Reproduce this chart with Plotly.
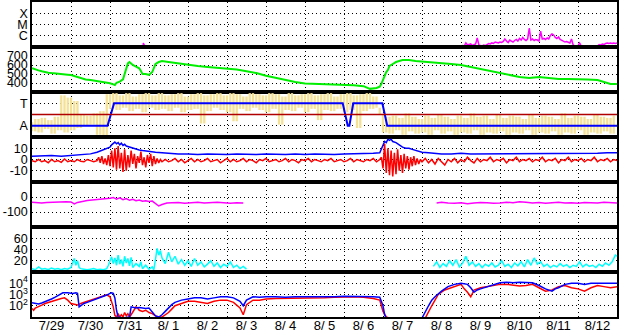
import plotly.graph_objects as go
from plotly.subplots import make_subplots

# ---------------- axis labels ----------------
DAY_LABELS = ["7/29", "7/30", "7/31", "8/ 1", "8/ 2", "8/ 3", "8/ 4", "8/ 5",
              "8/ 6", "8/ 7", "8/ 8", "8/ 9", "8/10", "8/11", "8/12"]
LABEL_HOURS = [12 + 24 * i for i in range(len(DAY_LABELS))]  # hours since 7/29 00:00

# ---------------- data (hours since 7/29 00:00, value) ----------------
# Panel 1: X-ray flux, log10 (W/m^2); values below -7 are off scale
XRAY = [(0, -8), (22.5, -8), (23, -6.9), (23.5, -8), (53.5, -8), (54, -6.9), (54.5, -8),
        (68, -8), (68.5, -6.64), (69, -6.8), (69.5, -8), (146, -8), (146.5, -6.82), (147, -8),
        (258, -8), (259, -6.91), (260, -8), (261, -8), (262, -6.95), (263, -6.91), (264, -6.91),
        (265, -6.87), (266, -6.91), (267, -6.64), (268, -6.82), (269, -6.78), (270, -6.73),
        (271, -6.87), (272, -6.78), (273, -6.73), (274, -6.2), (275, -6.82), (276, -6.87),
        (277, -6.91), (278, -6.82), (279, -6.87), (280, -6.78), (281, -6.69), (282, -6.73),
        (283, -6.64), (284, -6.69), (285, -6.56), (286, -6.6), (287, -6.64), (288, -6.56),
        (289, -6.6), (290, -6.51), (291, -6.29), (292, -6.47), (293, -6.6), (294, -6.38),
        (295, -6.51), (296, -6.56), (297, -6.42), (298, -6.33), (299, -6.47), (300, -6.24),
        (301, -6.38), (302, -6.15), (303, -6.33), (304, -6.42), (305, -6.29), (306, -5.31),
        (307, -6.38), (308, -6.29), (309, -6.42), (310, -6.33), (311, -6.38), (312, -6.47),
        (313, -5.58), (314, -6.29), (315, -6.24), (316, -6.33), (317, -6.2), (318, -6.29),
        (319, -5.98), (320, -5.84), (321, -5.93), (322, -6.15), (323, -6.24), (324, -6.11),
        (325, -6.33), (326, -6.42), (327, -6.47), (328, -6.56), (329, -6.51), (330, -6.6),
        (331, -6.64), (332, -6.29), (333, -6.82), (334, -6.91), (335, -6.91), (336, -6.87),
        (337, -6.64), (338, -6.91), (339, -6.95), (340, -7.1), (341, -6.95), (342, -7.2),
        (343, -6.95), (344, -7.1), (345, -6.91), (346, -6.91), (347, -6.87), (348, -6.91),
        (349, -6.78), (350, -6.82), (351, -6.73), (352, -6.78), (353, -6.69), (354, -6.64),
        (355, -6.69), (356, -6.64), (357, -6.69), (358, -6.64), (359, -6.69), (360, -6.64)]

# Panel 2: solar wind speed (km/s)
WIND = [(0, 565), (2, 550), (4, 540), (6, 530), (8, 520), (10, 515), (12, 510), (14, 505),
        (16, 508), (18, 500), (20, 495), (22, 492), (24, 489), (27, 470), (30, 452), (33, 440),
        (36, 433), (39, 425), (42, 415), (45, 405), (48, 397), (50, 385), (51, 378), (52, 403),
        (54, 415), (56, 441), (57, 507), (58, 563), (59, 618), (60, 633), (62, 600), (64, 581),
        (66, 563), (67, 533), (68, 500), (70, 500), (72, 489), (74, 522), (76, 611), (78, 633),
        (80, 644), (84, 633), (88, 622), (92, 611), (96, 600), (102, 589), (108, 578),
        (114, 567), (120, 561), (126, 550), (132, 530), (138, 510), (144, 480), (150, 455),
        (156, 430), (162, 410), (168, 395), (174, 392), (180, 390), (186, 385), (192, 380),
        (198, 375), (204, 365), (208, 335), (212, 345), (214, 360), (215, 390), (216, 433),
        (217, 489), (218, 522), (219, 544), (220, 589), (222, 611), (224, 633), (228, 655),
        (232, 655), (236, 644), (240, 639), (246, 633), (252, 622), (258, 611), (264, 600),
        (270, 578), (276, 556), (282, 533), (288, 511), (294, 489), (300, 467), (306, 455),
        (312, 467), (318, 455), (324, 444), (330, 444), (336, 444), (342, 439), (348, 433),
        (352, 411), (356, 389), (360, 389)]

# Panel 3: IMF angle scatter (A=1, T=3) every 2 h, and sector polarity
SECTOR_SCATTER_STEP = 2
SECTOR_SCATTER = [
    1.3, 0.5, 1.6, 0.4, 1.7, 0.7, 1.5, 0.3, 1.8, 0.6, 3.7, 0.4, 3.5,
    0.6, 3.2, 0.8, 2.0, 1.0, 1.9, 1.1, 2.1, 0.2, 2.3, 0.1,
    3.8, 2.5, 3.9, 2.4, 3.7, 2.6, 3.9, 2.3, 3.6, 2.5, 3.8, 2.2, 3.9, 2.6, 3.7, 2.4,
    3.9, 2.5, 3.7, 2.3, 3.8, 2.6, 3.9, 2.2, 3.6, 2.4,
    3.8, 2.5, 3.9, 1.2, 3.7, 2.3, 3.8, 2.6, 3.9, 2.4,
    3.7, 2.2, 3.9, 1.4, 3.8, 2.5, 3.6, 2.3, 3.9, 2.6,
    3.8, 2.4, 3.7, 2.2, 3.9, 2.5, 3.8, 1.1, 3.6, 2.4,
    3.9, 2.3, 3.7, 2.6, 3.8, 2.2, 3.9, 2.5, 3.7, 1.5,
    3.8, 2.4, 3.9, 2.3, 3.6, 2.5,
    3.8, 2.2, 3.9, 2.4, 3.7, 0.8, 3.8, 2.3, 3.9, 2.5, 3.6, 2.6,
    2.0, 0.4, 1.8, 0.3, 1.9, 0.6, 1.7, 0.2, 2.1, 0.5,
    1.8, 0.3, 1.6, 0.4, 1.9, 0.2, 1.7, 0.6, 2.0, 0.3,
    1.8, 0.5, 1.6, 0.2, 1.9, 0.4, 1.7, 0.3, 2.1, 0.6,
    1.8, 0.2, 1.9, 0.4, 1.6, 0.3, 2.0, 0.5, 1.7, 0.2,
    1.9, 0.4, 1.8, 0.3, 1.6, 0.6, 2.0, 0.2, 1.7, 0.4,
    1.9, 0.3, 1.8, 0.5, 1.6, 0.2, 2.1, 0.4, 1.7, 0.3,
    1.9, 0.6, 1.8, 0.2, 1.6, 0.4, 2.0, 0.3, 1.8, 0.5,
    1.7, 0.3, 1.9]
SECTOR = [(0, 1), (46.5, 1), (50.5, 3), (191.2, 3), (194.3, 1), (195.3, 1), (197.7, 3),
          (215.6, 3), (218.6, 1), (360, 1)]
SECTOR_MID = 2

# Panel 4: IMF Bt (blue) and Bz (red), nT
BT = [(0, 3), (6, 3.2), (12, 3.5), (18, 3), (24, 3.8), (30, 4.2), (36, 5), (40, 6.5), (42, 7.5),
      (44, 8.5), (46, 9.5), (48, 11), (49, 13), (50, 14), (51, 15.5), (52, 14), (53, 15),
      (54, 13), (55, 14.5), (56, 12.5), (57, 13.5), (58, 12), (60, 11), (62, 10), (64, 9),
      (66, 8.5), (68, 8), (70, 7.5), (72, 7), (76, 6.5), (80, 6), (84, 5.5), (90, 5), (96, 5),
      (102, 4.5), (108, 5), (114, 4.5), (120, 4.5), (126, 5), (132, 4.5), (138, 4.5), (144, 5),
      (150, 4.5), (156, 4.5), (162, 5), (168, 4.5), (174, 5), (180, 4.5), (186, 4.5), (192, 5),
      (198, 5), (204, 5), (210, 5.5), (214, 6), (216, 12), (217, 16), (218, 15), (219, 18),
      (220, 17), (221, 18), (222, 16), (224, 15), (226, 13), (228, 11), (230, 10), (232, 10),
      (234, 9), (236, 8), (240, 6.5), (244, 6), (248, 5.5), (252, 5), (258, 5), (264, 5.5),
      (270, 5), (276, 5), (282, 5.5), (288, 5), (294, 5), (300, 5.5), (306, 5), (312, 5),
      (318, 5.5), (324, 5), (330, 5.5), (336, 5), (342, 5.5), (348, 5.5), (354, 6), (360, 6)]
BZ = [(0, -1), (2, -2), (4, 0), (6, -2), (8, -1), (10, -3), (12, 0), (14, -2), (16, -1),
      (18, -2.5), (20, 0.5), (22, -2), (24, -1), (26, -2), (28, 0), (30, -1.5), (32, -2), (34, 0),
      (36, -1), (38, -2), (40, -1), (41, 2), (42, -3), (43, 3), (44, -4), (45, 1), (46, -5),
      (47, 4), (48, -6), (49, 8), (50, -7), (51, 10), (52, -9), (53, 12), (54, -8), (55, 6),
      (56, -11), (57, 9), (58, -10), (59, 4), (60, -7), (61, 8), (62, -4), (63, 5), (64, -8),
      (65, 3), (66, -3), (67, 7), (68, -5), (69, 2), (70, -7), (71, 4), (72, -3), (73, 5),
      (74, -6), (75, 3), (76, -4), (77, 1), (78, -3), (79, 0), (80, -2), (82, 0), (84, -2),
      (86, -1), (88, 1), (90, -2), (92, 0), (94, -3), (96, -1), (98, 1), (100, -2), (102, 0),
      (104, -2), (106, -1), (108, 1), (110, -2), (112, -1), (114, 0), (116, -3), (118, -1),
      (120, 1), (122, -2), (124, 0), (126, -2), (128, -1), (130, 1), (132, -2), (134, 0),
      (136, -1), (138, -3), (140, 0), (142, -1), (144, 1), (146, -2), (148, -1), (150, 0),
      (152, -2), (154, -1), (156, 1), (158, -2), (160, 0), (162, -1), (164, -3), (166, 0),
      (168, -1), (170, 1), (172, -2), (174, 0), (176, -1), (178, -2), (180, 0), (182, -1),
      (184, 1), (186, -2), (188, -1), (190, 0), (192, -2), (194, -1), (196, 1), (198, -2),
      (200, 0), (202, -1), (204, -2), (206, 0), (208, -1), (210, 1), (212, -2), (214, 0),
      (215, 2), (216, -8), (217, 14), (218, -12), (219, 10), (220, -14), (221, 8), (222, -15),
      (223, 6), (224, -13), (225, 9), (226, -10), (227, 4), (228, -12), (229, 5), (230, -8),
      (231, 3), (232, -9), (233, 2), (234, -6), (235, 3), (236, -5), (237, 1), (238, -4),
      (239, 0), (240, -2), (242, 1), (244, -3), (246, 0), (248, -4), (250, 1), (252, -2),
      (254, -5), (256, 0), (258, -2), (260, 1), (262, -3), (264, 0), (266, -2), (268, 2),
      (270, -1), (272, -3), (274, 1), (276, -2), (278, 0), (280, -1), (282, 2), (284, -2),
      (286, 0), (288, -1), (290, 1), (292, -3), (294, 0), (296, -1), (298, 2), (300, -2),
      (302, 0), (304, -1), (306, 1), (308, -2), (310, 0), (312, -1), (314, 2), (316, -2),
      (318, 0), (320, -1), (322, 1), (324, -3), (326, 0), (328, -1), (330, 2), (332, -2),
      (334, 0), (336, -1), (338, 1), (340, -2), (342, 0), (344, -1), (346, 2), (348, -2),
      (350, 0), (352, -1), (354, 1), (356, -2), (358, 0), (360, -1)]

# Panel 5: Dst-like index (nT); None = no data
DST = [(0, -35), (3, -38), (6, -40), (9, -37), (12, -35), (15, -33), (18, -30), (21, -31),
       (24, -33), (26, -46), (28, -36), (31, -28), (34, -24), (37, -20), (40, -18), (43, -15),
       (46, -12), (48, -8), (50, -3), (52, -14), (54, -6), (56, -18), (58, -10), (60, -22),
       (62, -15), (64, -25), (66, -20), (68, -28), (70, -25), (72, -30), (74, -27), (76, -45),
       (78, -60), (80, -50), (83, -40), (86, -38), (90, -36), (94, -42), (98, -38), (102, -35),
       (106, -40), (110, -37), (114, -35), (118, -38), (122, -42), (126, -38), (130, -40),
       (132, None), (248, None), (249, -40), (252, -35), (256, -40), (260, -42), (264, -38),
       (268, -45), (272, -40), (276, -36), (280, -38), (284, -42), (288, -40), (292, -35),
       (296, -38), (300, -32), (304, -35), (308, -40), (312, -37), (316, -42), (320, -38),
       (324, -35), (328, -40), (332, -38), (336, -42), (340, -36), (344, -38), (348, -40),
       (352, -35), (356, -38), (360, -40)]
DST_ZERO = 0

# Panel 6: index (cyan); None = no data
KP = [(0, 6), (2, 4), (4, 9), (6, 5), (8, 6), (10, 4), (12, 7), (14, 5), (16, 6), (18, 4),
      (20, 6), (22, 5), (24, 8), (25, 18), (26, 24), (27, 12), (28, 20), (29, 8), (30, 6),
      (32, 5), (34, 4), (36, 5), (38, 6), (40, 4), (42, 5), (44, 4), (46, 6), (47, 12), (48, 18),
      (49, 27), (50, 15), (51, 25), (52, 12), (53, 30), (54, 14), (55, 22), (56, 10), (57, 28),
      (58, 16), (59, 24), (60, 11), (61, 26), (62, 8), (64, 15), (66, 10), (67, 18), (68, 6),
      (70, 12), (72, 5), (74, 9), (75, 4), (76, 20), (77, 42), (78, 30), (79, 38), (80, 25),
      (82, 15), (84, 35), (86, 18), (88, 28), (90, 14), (92, 22), (94, 12), (96, 20), (98, 10),
      (100, 24), (102, 12), (104, 18), (106, 9), (108, 14), (110, 20), (112, 10), (114, 16),
      (116, 8), (118, 14), (120, 10), (122, 18), (124, 8), (126, 12), (128, 6), (130, 10),
      (132, 5), (133, None), (246, None), (247, 10), (249, 18), (251, 8), (253, 15), (255, 10),
      (257, 20), (259, 12), (261, 22), (263, 9), (265, 16), (267, 28), (269, 12), (271, 18),
      (273, 10), (275, 15), (277, 8), (279, 14), (281, 10), (283, 16), (285, 9), (287, 12),
      (289, 20), (291, 10), (293, 14), (295, 8), (297, 16), (299, 11), (301, 18), (303, 9),
      (305, 22), (307, 12), (309, 25), (311, 14), (313, 18), (315, 10), (317, 14), (319, 8),
      (321, 12), (323, 9), (325, 15), (327, 10), (329, 13), (331, 8), (333, 12), (335, 10),
      (337, 18), (339, 9), (341, 14), (343, 10), (345, 12), (347, 8), (349, 14), (351, 10),
      (353, 16), (355, 12), (357, 18), (359, 30), (360, 28)]

# Panel 7: electron flux, log10 (blue and red channels)
ELEC_BLUE = [(0, 2.27), (2, 2.2), (4, 2.15), (6, 2.25), (8, 2.35), (10, 2.5), (12, 2.6),
             (14, 2.75), (16, 2.9), (18, 3.1), (19, 3.15), (22, 3.15), (25, 3.1), (27, 3.15),
             (28, 3.1), (29, 1.9), (30, 2.0), (32, 2.2), (34, 2.3), (36, 2.4), (38, 2.5),
             (40, 2.6), (42, 2.7), (44, 2.8), (46, 2.95), (48, 3.1), (49, 3.15), (50, 3.1),
             (51, 2.7), (52, 1.6), (53, 1.0), (56, 0.9), (60, 1.0), (61, 1.9), (62, 1.85),
             (64, 1.8), (66, 1.85), (68, 1.8), (70, 1.75), (72, 1.8), (74, 1.4), (76, 1.1),
             (78, 1.0), (80, 1.2), (82, 1.5), (84, 1.8), (86, 2.1), (88, 2.3), (92, 2.5),
             (96, 2.6), (100, 2.7), (104, 2.7), (108, 2.6), (112, 2.7), (116, 2.8), (120, 2.8),
             (124, 2.7), (128, 2.4), (130, 2.0), (132, 2.5), (136, 2.8), (140, 2.75), (144, 2.8),
             (150, 2.8), (156, 2.75), (162, 2.8), (168, 2.8), (174, 2.75), (180, 2.8), (186, 2.8),
             (192, 2.85), (198, 2.85), (204, 2.8), (210, 2.8), (214, 2.75), (216, 2.0), (217, 1.2),
             (218, 0.9), (240, 0.9), (242, 1.5), (244, 2.0), (246, 2.5), (248, 2.8), (252, 3.3),
             (256, 3.7), (260, 3.9), (264, 4.0), (268, 3.9), (270, 3.6), (272, 3.2), (274, 3.4),
             (276, 3.5), (280, 3.7), (284, 3.9), (288, 4.05), (292, 4.1), (296, 4.05),
             (300, 4.1), (304, 4.1), (308, 4.05), (312, 3.8), (316, 3.5), (320, 3.3), (322, 3.5),
             (324, 3.6), (328, 3.9), (332, 4.0), (336, 4.0), (340, 3.9), (344, 4.0), (348, 4.0),
             (352, 4.0), (356, 4.0), (360, 4.0)]
ELEC_RED = [(0, 1.76), (1, 1.6), (2, 1.8), (4, 1.9), (6, 2.05), (8, 2.2), (10, 2.3), (12, 2.4),
            (14, 2.5), (16, 2.6), (18, 2.65), (20, 2.7), (22, 2.5), (24, 2.2), (26, 2.1),
            (28, 2.06), (30, 2.2), (32, 2.3), (34, 2.4), (36, 2.5), (38, 2.6), (40, 2.7),
            (42, 2.8), (44, 2.85), (46, 2.97), (48, 2.8), (49, 2.4), (50, 1.9), (51, 1.15),
            (52, 1.0), (53, 1.3), (54, 1.0), (55, 1.2), (56, 1.0), (57, 1.4), (58, 1.1),
            (59, 1.3), (60, 1.0), (61, 1.2), (62, 1.4), (63, 1.6), (64, 1.9), (65, 1.8),
            (66, 1.6), (68, 1.5), (70, 1.6), (72, 1.4), (74, 1.3), (76, 1.1), (78, 1.0),
            (80, 1.0), (82, 1.2), (84, 1.4), (86, 1.7), (88, 2.0), (92, 2.2), (96, 2.4),
            (100, 2.4), (104, 2.3), (108, 2.2), (112, 2.4), (116, 2.5), (120, 2.5), (124, 2.3),
            (128, 1.8), (130, 1.2), (132, 2.1), (136, 2.5), (140, 2.5), (144, 2.6), (150, 2.65),
            (156, 2.65), (162, 2.7), (168, 2.7), (174, 2.65), (180, 2.7), (186, 2.75), (192, 2.8),
            (198, 2.8), (204, 2.75), (210, 2.65), (214, 2.5), (216, 1.5), (218, 1.0), (220, 0.9),
            (242, 0.9), (244, 1.5), (246, 2.0), (248, 2.5), (250, 3.0), (254, 3.4), (258, 3.6),
            (262, 3.8), (264, 3.9), (266, 3.5), (268, 3.2), (270, 2.8), (272, 3.4), (276, 3.6),
            (280, 3.7), (284, 3.8), (288, 3.9), (292, 3.9), (296, 3.8), (300, 3.75), (304, 3.8),
            (308, 3.9), (312, 3.6), (316, 3.3), (320, 3.4), (324, 3.7), (328, 3.8), (332, 3.6),
            (336, 3.5), (340, 3.3), (344, 3.6), (348, 3.8), (352, 3.7), (356, 3.6), (360, 3.7)]
ELEC_THRESHOLD = 4

# ---------------- figure ----------------
fig = make_subplots(rows=7, cols=1, shared_xaxes=True, vertical_spacing=0)


def add_series(pairs, color, row, width=1.5):
    fig.add_trace(go.Scatter(x=[p[0] for p in pairs], y=[p[1] for p in pairs], mode="lines",
                             line=dict(color=color, width=width), hoverinfo="skip",
                             showlegend=False), row=row, col=1)


add_series(XRAY, "#FF00FF", 1)
add_series(WIND, "#00EE00", 2, 2)

# IMF angle scatter drawn as short vertical strokes between successive samples
stroke_x, stroke_y = [], []
for i in range(len(SECTOR_SCATTER) - 1):
    h = i * SECTOR_SCATTER_STEP
    stroke_x += [h, h, None]
    stroke_y += [SECTOR_SCATTER[i], SECTOR_SCATTER[i + 1], None]
fig.add_trace(go.Scatter(x=stroke_x, y=stroke_y, mode="lines",
                         line=dict(color="#F5E196", width=2.3), hoverinfo="skip",
                         showlegend=False), row=3, col=1)
fig.add_hline(y=SECTOR_MID, line=dict(color="#B00000", width=1.5), row=3, col=1)
add_series(SECTOR, "#0000FF", 3, 2)
add_series(BT, "#0000FF", 4)
add_series(BZ, "#FF0000", 4)
fig.add_hline(y=DST_ZERO, line=dict(color="#B00000", width=1.5), layer="below", row=5, col=1)
add_series(DST, "#FF00FF", 5)
add_series(KP, "#00FFFF", 6)
fig.add_hline(y=ELEC_THRESHOLD, line=dict(color="#B00000", width=1.5, dash="8px,3px,2px,3px"),
              layer="below", row=7, col=1)
add_series(ELEC_RED, "#FF0000", 7)
add_series(ELEC_BLUE, "#0000FF", 7)

FONT = dict(family="Liberation Sans, Arial, sans-serif", size=13, color="black")
YFONT = dict(family="Liberation Sans, Arial, sans-serif", size=12.5, color="black")
GRID = dict(showgrid=True, gridcolor="black", gridwidth=1, griddash="1px,3px")

for r in range(1, 8):
    fig.update_xaxes(range=[0, 360], showline=True, mirror=True, linecolor="black",
                     linewidth=1.5, showgrid=False, zeroline=False, tickmode="array",
                     tickvals=LABEL_HOURS, ticktext=DAY_LABELS, ticks="",
                     showticklabels=(r == 7), tickfont=FONT, automargin=False,
                     ticklabelstandoff=-4,
                     minor=dict(tick0=0, dtick=24, ticks="", **GRID), row=r, col=1)

Y_AXES = [
    ([-7, -3], [-6, -5, -4], ["C", "M", "X"]),
    ([300, 800], [400, 500, 600, 700], ["400", "500", "600", "700"]),
    ([0, 4], [1, 3], ["A", "T"]),
    ([-20, 20], [-10, 0, 10], ["-10", "0", "10"]),
    ([-200, 100], [-100, 0], ["-100", "0"]),
    ([0, 80], [20, 40, 60], ["20", "40", "60"]),
    ([1, 5], [2, 3, 4], ["10<sup>2</sup>", "10<sup>3</sup>", "10<sup>4</sup>"]),
]
for r, (rng, tv, tt) in enumerate(Y_AXES, start=1):
    fig.update_yaxes(range=rng, tickmode="array", tickvals=tv, ticktext=tt, ticks="",
                     showline=True, mirror=True, linecolor="black", linewidth=1.5,
                     zeroline=False, tickfont=YFONT, automargin=False, **GRID, row=r, col=1)

fig.update_layout(width=628, height=334, margin=dict(l=32, r=11, t=2, b=17),
                  paper_bgcolor="white", plot_bgcolor="white", showlegend=False,
                  font=FONT)

fig.write_html("out.html")
